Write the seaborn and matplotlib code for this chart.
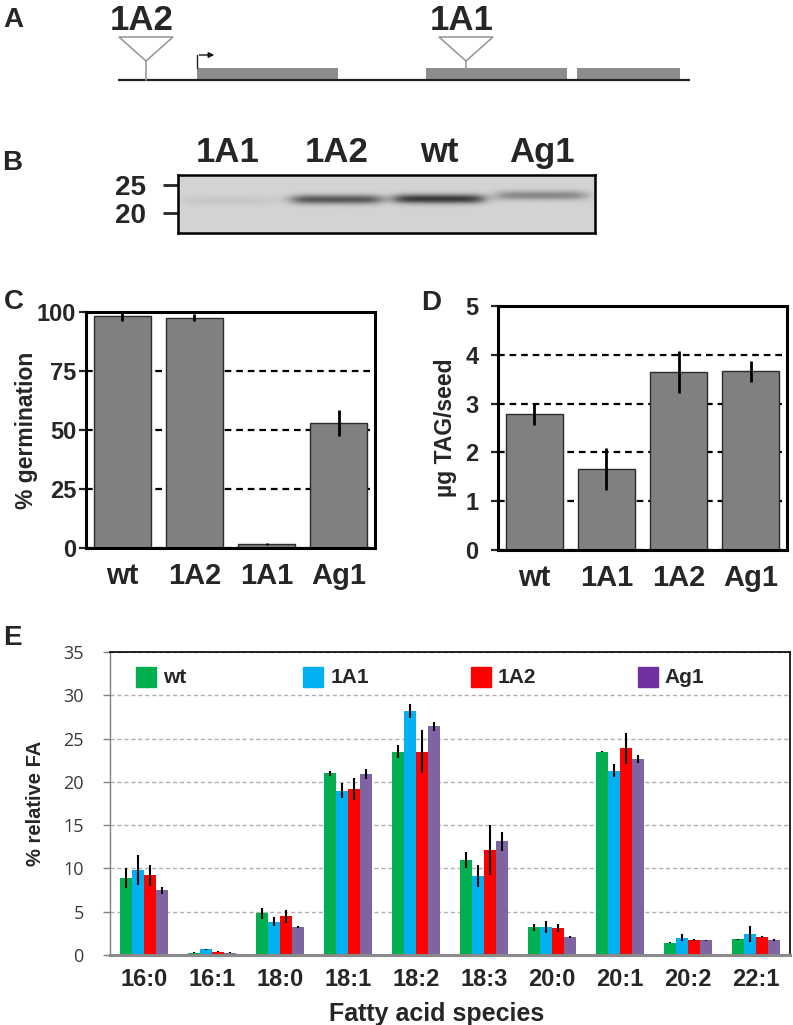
import numpy as np
import pandas as pd
import matplotlib
matplotlib.use('Agg')
from matplotlib import pyplot as plt
from matplotlib.patches import Rectangle, Polygon
import seaborn as sns

sns.set_style('white')
plt.rcParams['font.family'] = ['Liberation Sans', 'DejaVu Sans']

W, H = 793, 1025

# panel A: gene model (drawing units along the gene)
gene_span = [118, 690]
exons = [(197, 338), (426, 567), (577, 680)]
insertions = ['1A2', '1A1']
insert_pos = [146, 466]
tss = 197

# panel B: western blot
blot_lanes = ['1A1', '1A2', 'wt', 'Ag1']
band_strength = [0.05, 0.5, 0.62, 0.3]
marker_kda = ['25', '20']

# panel C: germination
germ_lines = ['wt', '1A2', '1A1', 'Ag1']
germ_pct = [98.2, 97.6, 1.6, 52.8]
germ_err = [2.0, 1.6, 0.4, 5.5]

# panel D: TAG per seed
tag_lines = ['wt', '1A1', '1A2', 'Ag1']
tag_ug = [2.79, 1.65, 3.64, 3.66]
tag_err = [0.22, 0.43, 0.43, 0.22]

# panel E: fatty acid composition
fa_species = ['16:0', '16:1', '18:0', '18:1', '18:2', '18:3', '20:0', '20:1', '20:2', '22:1']
genotypes = ['wt', '1A1', '1A2', 'Ag1']
fa_wt = [8.9, 0.27, 4.8, 21.0, 23.5, 11.0, 3.2, 23.5, 1.42, 1.8]
fa_1a1 = [9.8, 0.65, 3.85, 19.0, 28.2, 9.1, 3.2, 21.3, 2.0, 2.4]
fa_1a2 = [9.2, 0.38, 4.5, 19.2, 23.5, 12.1, 3.1, 23.9, 1.73, 2.1]
fa_ag1 = [7.5, 0.27, 3.2, 20.9, 26.4, 13.15, 2.1, 22.6, 1.73, 1.73]
err_wt = [1.2, 0.08, 0.6, 0.3, 0.7, 0.9, 0.4, 0.05, 0.06, 0.08]
err_1a1 = [1.7, 0.1, 0.5, 0.85, 0.77, 1.3, 0.7, 0.73, 0.4, 0.9]
err_1a2 = [1.2, 0.05, 0.75, 1.25, 2.5, 2.9, 0.45, 1.8, 0.1, 0.15]
err_ag1 = [0.4, 0.08, 0.1, 0.6, 0.55, 1.1, 0.1, 0.45, 0.06, 0.1]
fa_colors = ['#00b050', '#00b0f0', '#ff0000', '#8064a2']
legend_colors = ['#00b050', '#00b0f0', '#ff0000', '#7030a0']

narrow = ['Liberation Sans Narrow', 'Liberation Sans', 'DejaVu Sans']


def fbox(l, t, r, b):
    return [l / W, 1 - b / H, (r - l) / W, (b - t) / H]


fig = plt.figure(figsize=(W / 100, H / 100), dpi=100)

# overlay for the gene drawing and panel letters
ov = fig.add_axes([0, 0, 1, 1], zorder=0)
ov.set_xlim(0, W)
ov.set_ylim(H, 0)
ov.axis('off')

for letter, (lx, ly) in zip('ABCDE', [(13, 20), (12, 163), (14, 302), (431, 303), (12, 638)]):
    ov.text(lx, ly, letter, fontsize=20, fontweight='bold', ha='center', va='center')

#A - gene model
ov.plot(gene_span, [80, 80], color='#222222', lw=1.6, solid_capstyle='butt')
for s, e in exons:
    ov.add_patch(Rectangle((s, 68), e - s, 12, fc='#8c8c8c', ec='none'))
ov.plot([tss, tss], [68, 55], color='#222222', lw=1)
ov.annotate('', xy=(217, 55), xytext=(tss - 0.5, 55),
            arrowprops=dict(arrowstyle='-|>', color='#111111', lw=1, mutation_scale=8))
for name, x in zip(insertions, insert_pos):
    in_exon = any(s <= x <= e for s, e in exons)
    ov.add_patch(Polygon([(x - 27, 37), (x + 27, 37), (x, 61)], closed=True,
                         fc='white', ec='#9a9a9a', lw=1.2))
    ov.plot([x, x], [61, 68 if in_exon else 80], color='#9a9a9a', lw=1.2)
    ov.text(x - 4, 20, name, fontsize=25, fontweight='bold', ha='center', va='center')

#B - blot
gel = fig.add_axes(fbox(178, 175, 595, 233))
lane_x = [0.12, 0.38, 0.626, 0.873]
band_y = [0.45, 0.43, 0.42, 0.36]
gx = np.linspace(0, 1, 420)
gy = np.linspace(0, 1, 60)
img = np.full((60, 420), 0.17)
for cx, cy, st in zip(lane_x, band_y, band_strength):
    hp = 1 / (1 + np.exp(-(0.105 - np.abs(gx - cx)) / 0.012))
    vp = np.exp(-((gy - cy) / 0.08) ** 2)
    img += st * np.outer(vp, hp)
gel.imshow(img, cmap='gray_r', vmin=0, vmax=1, aspect='auto', extent=(0, 1, 0, 1))
gel.set_xlim(0, 1)
gel.set_ylim(0, 1)
gel.xaxis.tick_top()
gel.set_xticks(lane_x, labels=blot_lanes, fontsize=25, fontweight='bold')
gel.set_yticks([0.83, 0.345], labels=marker_kda, fontsize=20, fontweight='bold')
gel.tick_params(axis='x', length=0, pad=4)
gel.tick_params(axis='y', direction='out', left=True, length=11, width=2, pad=12)
for sp in gel.spines.values():
    sp.set_linewidth(1.8)
    sp.set_color('black')


def style_box(ax, ticks, label, label_x):
    ax.set_yticks(ticks, labels=[str(t) for t in ticks], fontsize=17, fontweight='bold')
    ax.set_ylim(ticks[0], ticks[-1])
    ax.set_xlim(-0.5, 3.5)
    ax.yaxis.grid(True, color='black', ls=(0, (3, 2.2)), lw=1.6)
    ax.xaxis.grid(False)
    ax.set_axisbelow(True)
    for sp in ax.spines.values():
        sp.set_visible(True)
        sp.set_linewidth(2.2)
        sp.set_color('black')
    ax.tick_params(axis='y', direction='out', length=5, width=1.6, pad=2, left=True)
    ax.tick_params(axis='x', length=0, pad=10)
    for t in ax.get_xticklabels():
        t.set_fontsize(21)
        t.set_fontweight('bold')
    ax.set_xlabel('')
    ax.set_ylabel(label, fontsize=16.5, fontweight='bold')
    ax.yaxis.set_label_coords(label_x, 0.5)


#C - germination
axC = fig.add_axes(fbox(86, 312, 375, 548))
sns.barplot(x=germ_lines, y=germ_pct, color='#808080', edgecolor='#2b2b2b', linewidth=1,
            width=0.79, saturation=1, ax=axC)
axC.errorbar(range(len(germ_lines)), germ_pct, yerr=germ_err, fmt='none', ecolor='black',
             elinewidth=2, capsize=0)
style_box(axC, [0, 25, 50, 75, 100], '% germination', -0.166)

#D - TAG
axD = fig.add_axes(fbox(498, 306, 787, 550))
sns.barplot(x=tag_lines, y=tag_ug, color='#808080', edgecolor='#2b2b2b', linewidth=1,
            width=0.79, saturation=1, ax=axD)
axD.errorbar(range(len(tag_lines)), tag_ug, yerr=tag_err, fmt='none', ecolor='black',
             elinewidth=2, capsize=0)
style_box(axD, [0, 1, 2, 3, 4, 5], '\u00b5g TAG/seed', -0.142)
axD.tick_params(axis='y', pad=9)

#E - fatty acids
vals = [fa_wt, fa_1a1, fa_1a2, fa_ag1]
errs = [err_wt, err_1a1, err_1a2, err_ag1]
df = pd.DataFrame({
    'species': fa_species * len(genotypes),
    'genotype': np.repeat(genotypes, len(fa_species)),
    'value': np.concatenate(vals),
})

axE = fig.add_axes(fbox(110, 652, 790, 955))
sns.barplot(data=df, x='species', y='value', hue='genotype', hue_order=genotypes,
            palette=fa_colors, width=0.72, saturation=1, linewidth=0, errorbar=None,
            legend=False, ax=axE)
for cont, e in zip(axE.containers, errs):
    xs = [b.get_x() + b.get_width() / 2 for b in cont]
    ys = [b.get_height() for b in cont]
    axE.errorbar(xs, ys, yerr=e, fmt='none', ecolor='black', elinewidth=1.5, capsize=0, zorder=4)

axE.set_ylim(0, 35)
axE.set_xlim(-0.5, 9.5)
axE.set_yticks(range(0, 36, 5), labels=[str(v) for v in range(0, 36, 5)],
               fontsize=13, family=['Open Sans', 'DejaVu Sans'], color='#3a3a3a')
axE.yaxis.grid(True, color='#b0b0b0', ls=(0, (3, 2)), lw=1)
axE.set_axisbelow(True)
axE.spines['left'].set_color('#808080')
axE.spines['left'].set_linewidth(1)
axE.spines['bottom'].set_color('#8a8a8a')
axE.spines['bottom'].set_linewidth(2.2)
for side in ['top', 'right']:
    axE.spines[side].set_color('black')
    axE.spines[side].set_linewidth(1.2)
axE.tick_params(axis='y', direction='out', length=5, width=1, color='#808080', pad=14, left=True)
axE.tick_params(axis='x', length=0, pad=9)
for t in axE.get_xticklabels():
    t.set_fontsize(17)
    t.set_fontweight('bold')
    t.set_family(narrow)
axE.set_xlabel('Fatty acid species', fontsize=18, fontweight='bold', family=narrow, va='top')
axE.xaxis.set_label_coords(0.48, -0.155)
axE.set_ylabel('% relative FA', fontsize=14.5, fontweight='bold', family=narrow)
axE.yaxis.set_label_coords(-0.095, 0.5)

# legend row at top of the plot
for i, (g, c) in enumerate(zip(genotypes, legend_colors)):
    mx = 0.053 + i * 0.246
    axE.plot([mx], [0.917], marker='s', ms=15, color=c, transform=axE.transAxes, clip_on=False)
    axE.text(mx + 0.025, 0.917, g, transform=axE.transAxes, fontsize=15, fontweight='bold',
             va='center', ha='left')

plt.savefig('out.png', dpi=100)
